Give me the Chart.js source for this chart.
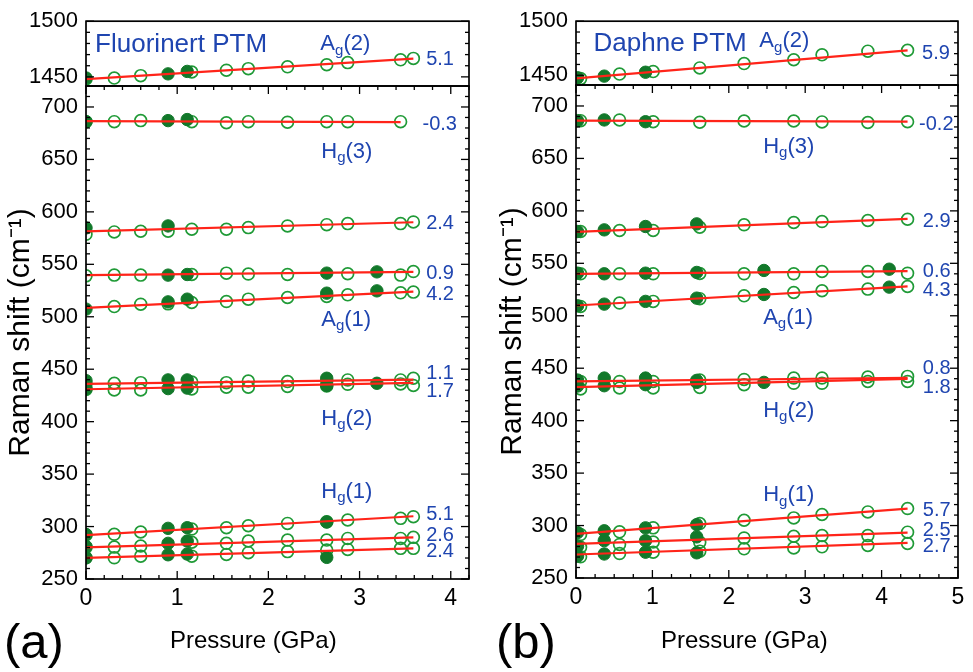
<!DOCTYPE html>
<html lang="en">
<head>
  <meta charset="UTF-8" />
  <title>Raman shift vs pressure</title>
  <script src="https://cdn.jsdelivr.net/npm/chart.js"></script>
  <style>
    body {
      margin: 0;
      background: #fff;
      font-family: 'Liberation Sans', Arial, sans-serif;
    }
    #figure {
      position: relative;
      width: 973px;
      height: 672px;
      overflow: hidden;
    }
    #figure canvas {
      position: absolute;
      top: 0;
    }
    .txt {
      position: absolute;
      color: #000;
      white-space: nowrap;
      line-height: 1;
      transform: translateY(-50%);
    }
    .tag { font-size: 49px; }
    .xtitle { font-size: 24px; }
  </style>
</head>
<body>
  <div id="figure">
    <canvas id="aTop" width="480" height="672" style="left:0"></canvas>
    <canvas id="aBottom" width="480" height="672" style="left:0"></canvas>
    <canvas id="bTop" width="483" height="672" style="left:490px"></canvas>
    <canvas id="bBottom" width="483" height="672" style="left:490px"></canvas>
    <div class="txt tag" style="left:4px; top:641px">(a)</div>
    <div class="txt xtitle" style="left:170px; top:640px">Pressure (GPa)</div>
    <div class="txt tag" style="left:496px; top:641px">(b)</div>
    <div class="txt xtitle" style="left:661px; top:640px">Pressure (GPa)</div>
  </div>

  <script>
    const FONT = "'Liberation Sans', Arial, sans-serif";
    const OPEN_GREEN = '#1f9a36';
    const FILLED_GREEN = '#12782a';
    const FIT_RED = '#ff2419';
    const NOTE_BLUE = '#1f45b0';

    // mode order: Ag(2), Hg(3), ~580, ~540, Ag(1), Hg(2) upper, Hg(2) lower, Hg(1) upper, Hg(1) mid, Hg(1) low

    // ---- (a) Fluorinert PTM ----
    const aPressOpen = [0, 0.31, 0.60, 0.90, 1.16, 1.54, 1.78, 2.21, 2.64, 2.87, 3.45, 3.59];
    const aOpen = [
      [1448.1, 1448.9, 1451.1, null, 1454.4, 1456.0, 1457.4, 1459.0, 1460.9, 1462.8, 1465.3, 1466.6],
      [686.0, 686.0, 687.0, null, 686.0, 685.0, 686.0, 685.5, 686.0, 686.0, 686.0, null],
      [578.6, 580.9, 581.5, 581.5, 583.4, 583.4, 585.0, 586.6, 587.8, 588.8, 588.8, 590.4],
      [539.0, 539.7, 539.7, null, 540.3, 541.6, 540.7, 540.3, null, 541.0, 539.7, 543.1],
      [null, 509.7, 512.0, 512.3, 513.6, 514.5, 516.8, 518.4, 519.3, 520.9, 522.8, 523.5],
      [436.0, 436.6, 437.2, null, 437.8, 437.2, 438.8, 438.2, 438.5, 439.8, 439.8, 441.4],
      [430.6, 430.2, 430.2, null, 431.2, 432.8, 432.8, 433.5, 434.0, 435.6, 436.0, 434.5],
      [291.9, 292.6, 294.8, null, 297.6, 298.9, 300.8, 303.0, 304.5, 306.2, 307.8, 309.4],
      [280.1, 280.4, 281.4, null, 285.0, 284.0, 286.2, 287.1, 287.1, 288.7, 288.7, 289.7],
      [270.2, 270.2, 271.8, null, 271.8, 273.4, 275.1, 276.1, 277.6, 278.2, 279.2, 279.2]
    ];
    const aPressFilled = [0, 0.90, 1.11, 2.64, 3.19];
    const aFilled = [
      [1449.0, 1452.7, 1454.9, null, null],
      [686.0, 687.0, 688.0, null, null],
      [584.7, 586.6, null, null, null],
      [null, 539.7, 540.3, 541.6, 542.8],
      [507.3, 514.2, 516.8, 522.5, 524.7],
      [439.1, 439.8, 439.8, 441.4, null],
      [431.5, 431.5, 432.0, 434.5, 436.6],
      [292.5, 298.3, 298.9, 304.3, null],
      [281.0, 284.0, 286.2, null, null],
      [270.2, 273.1, 273.8, 270.6, null]
    ];
    // linear fits: value at P = 0 and at the last pressure
    const aFit = [
      [1448.0, 1466.4], [686.5, 685.5], [581.5, 590.1], [539.7, 542.8], [508.5, 524.0],
      [436.0, 440.0], [430.9, 437.0], [291.9, 309.8], [280.1, 289.7], [270.2, 279.2]
    ];
    const aFitEnd = [3.59, 3.45, 3.59, 3.59, 3.59, 3.59, 3.59, 3.59, 3.59, 3.59];
    const aXTicks = [0, 1, 2, 3, 4];

    // ---- (b) Daphne PTM ----
    const bPressOpen = [0.06, 0.57, 1.01, 1.62, 2.20, 2.85, 3.22, 3.82, 4.34];
    const bOpen = [
      [1446.9, 1451.1, 1453.4, 1456.8, 1460.8, 1464.4, 1468.9, 1472.3, 1473.1],
      [686.0, 686.7, 685.0, 684.5, 685.7, 685.7, 684.8, 684.3, 685.0],
      [580.3, 581.3, 581.3, 584.4, 586.7, 588.9, 589.8, 590.8, 592.0],
      [540.0, 540.0, 540.0, 540.3, 540.0, 540.0, 542.2, 542.2, 540.6],
      [508.9, 512.1, 513.7, 516.3, 519.0, 522.2, 523.8, 525.4, 527.9],
      [437.4, 437.4, 437.4, 438.8, 439.3, 440.6, 440.6, 441.6, 442.2],
      [430.2, 431.1, 431.1, 431.7, 434.3, 435.6, 435.6, 437.4, 437.4],
      [291.4, 294.0, 297.8, 301.9, 305.1, 307.3, 310.5, 313.0, 316.2],
      [279.3, 282.0, 284.3, 284.1, 288.2, 289.8, 290.4, 290.4, 293.7],
      [270.2, 273.3, 274.6, 275.6, 277.8, 278.7, 279.7, 281.0, 282.9]
    ];
    const bPressFilled = [0.02, 0.37, 0.91, 1.58, 2.46, 4.10];
    const bFilled = [
      [1447.7, 1449.2, 1452.8, null, null, null],
      [686.0, 686.7, 685.0, null, null, null],
      [580.3, 581.9, 585.1, 587.6, null, null],
      [540.6, 540.0, 540.6, 541.3, 543.2, 544.4],
      [509.5, 511.1, 513.7, 516.8, 520.3, 527.3],
      [438.7, 440.6, 440.6, 438.4, null, null],
      [433.0, 433.3, 434.3, 436.5, 436.5, null],
      [293.3, 295.0, 297.8, 300.9, null, null],
      [280.3, 285.6, 285.6, 289.2, null, null],
      [270.8, 272.9, 274.6, 274.0, null, null]
    ];
    const bFit = [
      [1447.2, 1473.1], [686.0, 685.1], [580.0, 592.4], [540.0, 542.6], [509.8, 528.0],
      [437.4, 440.9], [432.0, 439.8], [292.1, 316.2], [282.5, 293.3], [272.4, 283.5]
    ];
    const bFitEnd = [4.34, 4.34, 4.34, 4.34, 4.34, 4.34, 4.34, 4.34, 4.34, 4.34];
    const bXTicks = [0, 1, 2, 3, 4, 5];

    const topYTicks = [1450, 1500];
    const bottomYTicks = [250, 300, 350, 400, 450, 500, 550, 600, 650, 700];

    // blue annotations, placed in data units
    const aTopNotes = [
      { x: 0.10, y: 1481, text: 'Fluorinert PTM', size: 26 },
      { x: 2.57, y: 1481, text: 'A', sub: 'g', tail: '(2)', size: 22 },
      { x: 3.73, y: 1467, text: '5.1', size: 20 }
    ];
    const aBottomNotes = [
      { x: 3.69, y: 685, text: '-0.3', size: 20 },
      { x: 2.58, y: 659, text: 'H', sub: 'g', tail: '(3)', size: 22 },
      { x: 3.73, y: 590.8, text: '2.4', size: 20 },
      { x: 3.73, y: 543, text: '0.9', size: 20 },
      { x: 3.73, y: 523, text: '4.2', size: 20 },
      { x: 2.58, y: 499, text: 'A', sub: 'g', tail: '(1)', size: 22 },
      { x: 3.73, y: 447.7, text: '1.1', size: 20 },
      { x: 3.73, y: 430, text: '1.7', size: 20 },
      { x: 2.58, y: 404.7, text: 'H', sub: 'g', tail: '(2)', size: 22 },
      { x: 2.58, y: 334.8, text: 'H', sub: 'g', tail: '(1)', size: 22 },
      { x: 3.73, y: 312.6, text: '5.1', size: 20 },
      { x: 3.73, y: 293.5, text: '2.6', size: 20 },
      { x: 3.73, y: 277.6, text: '2.4', size: 20 }
    ];
    const bTopNotes = [
      { x: 0.23, y: 1481.4, text: 'Daphne PTM', size: 26 },
      { x: 2.40, y: 1483, text: 'A', sub: 'g', tail: '(2)', size: 22 },
      { x: 4.53, y: 1472, text: '5.9', size: 20 }
    ];
    const bBottomNotes = [
      { x: 4.49, y: 683.5, text: '-0.2', size: 20 },
      { x: 2.45, y: 663, text: 'H', sub: 'g', tail: '(3)', size: 22 },
      { x: 4.54, y: 591.4, text: '2.9', size: 20 },
      { x: 4.54, y: 544, text: '0.6', size: 20 },
      { x: 4.54, y: 525.7, text: '4.3', size: 20 },
      { x: 2.45, y: 500, text: 'A', sub: 'g', tail: '(1)', size: 22 },
      { x: 4.54, y: 451.1, text: '0.8', size: 20 },
      { x: 4.54, y: 433.6, text: '1.8', size: 20 },
      { x: 2.45, y: 411.4, text: 'H', sub: 'g', tail: '(2)', size: 22 },
      { x: 2.45, y: 330.5, text: 'H', sub: 'g', tail: '(1)', size: 22 },
      { x: 4.54, y: 316.2, text: '5.7', size: 20 },
      { x: 4.54, y: 297.1, text: '2.5', size: 20 },
      { x: 4.54, y: 281.2, text: '2.7', size: 20 }
    ];

    // frame with inward ticks on the plot box
    const framePlugin = {
      id: 'frame',
      afterDatasetsDraw(chart, args, o) {
        const { ctx, chartArea: ca, scales: { x, y } } = chart;
        ctx.save();
        ctx.strokeStyle = '#000';
        ctx.lineWidth = 1.7;
        ctx.strokeRect(ca.left, ca.top, ca.right - ca.left, ca.bottom - ca.top);
        ctx.lineWidth = 1.3;
        const seg = (x1, y1, x2, y2) => {
          ctx.beginPath(); ctx.moveTo(x1, y1); ctx.lineTo(x2, y2); ctx.stroke();
        };
        for (let k = 0; ; k++) {
          const v = o.yStart + k * o.yMinor;
          if (v > y.max + 1e-9) break;
          const py = y.getPixelForValue(v);
          const len = k % o.yEvery === 0 ? 8 : 4;
          seg(ca.left, py, ca.left + len, py);
          seg(ca.right, py, ca.right - len, py);
        }
        if (o.xTicks) {
          for (let k = 0; ; k++) {
            const v = k * o.xMinor;
            if (v > x.max + 1e-9) break;
            const px = x.getPixelForValue(v);
            const len = k % o.xEvery === 0 ? 8 : 4;
            seg(px, ca.bottom, px, ca.bottom - len);
            seg(px, ca.top, px, ca.top + len);
          }
        }
        ctx.restore();
      }
    };

    const notesPlugin = {
      id: 'notes',
      afterDatasetsDraw(chart, args, o) {
        const { ctx, scales: { x, y } } = chart;
        ctx.save();
        ctx.fillStyle = NOTE_BLUE;
        ctx.textAlign = 'left';
        ctx.textBaseline = 'alphabetic';
        o.items.forEach(n => {
          let px = x.getPixelForValue(n.x);
          const base = y.getPixelForValue(n.y) + n.size * 0.358;
          ctx.font = `${n.size}px ${FONT}`;
          ctx.fillText(n.text, px, base);
          if (n.sub) {
            px += ctx.measureText(n.text).width;
            ctx.font = `${Math.round(n.size * 0.66)}px ${FONT}`;
            ctx.fillText(n.sub, px, base + n.size * 0.2);
            px += ctx.measureText(n.sub).width;
            ctx.font = `${n.size}px ${FONT}`;
            ctx.fillText(n.tail, px, base);
          }
        });
        ctx.restore();
      }
    };

    function pts(xs, ys) {
      return xs.map((x, i) => ({ x, y: ys[i] })).filter(p => p.y !== null);
    }

    function buildDatasets(pOpen, open, pFilled, filled, fit, fitEnd, modes) {
      const fits = [], full = [], hollow = [];
      modes.forEach(i => {
        fits.push({
          type: 'line',
          data: [{ x: 0, y: fit[i][0] }, { x: fitEnd[i], y: fit[i][1] }],
          borderColor: FIT_RED,
          borderWidth: 2.2,
          pointRadius: 0,
          clip: 0
        });
        full.push({
          data: pts(pFilled, filled[i]),
          pointRadius: 6.2,
          pointBorderWidth: 1,
          pointBackgroundColor: FILLED_GREEN,
          pointBorderColor: FILLED_GREEN,
          clip: 0
        });
        hollow.push({
          data: pts(pOpen, open[i]),
          pointRadius: 5.9,
          pointBorderWidth: 1.7,
          pointBackgroundColor: 'rgba(255,255,255,0)',
          pointBorderColor: OPEN_GREEN,
          clip: 0
        });
      });
      return [...fits, ...full, ...hollow];
    }

    function makeChart(id, cfg) {
      const isTop = cfg.part === 'top';
      return new Chart(document.getElementById(id), {
        type: 'scatter',
        data: { datasets: cfg.datasets },
        options: {
          responsive: false,
          animation: false,
          events: [],
          layout: { padding: cfg.padding },
          plugins: {
            legend: { display: false },
            tooltip: { enabled: false },
            frame: cfg.frame,
            notes: { items: cfg.notes }
          },
          scales: {
            x: {
              type: 'linear',
              min: 0,
              max: cfg.xMax,
              display: !isTop,
              grid: { display: false, drawTicks: false },
              border: { display: false },
              afterBuildTicks: s => { s.ticks = cfg.xTicks.map(v => ({ value: v })); },
              afterFit: s => { s.height = cfg.xHeight; },
              ticks: {
                color: '#000',
                font: { family: FONT, size: 23 },
                padding: 6,
                maxRotation: 0,
                autoSkip: false,
                callback: v => String(v)
              }
            },
            y: {
              type: 'linear',
              min: cfg.yMin,
              max: cfg.yMax,
              grid: { display: false, drawTicks: false },
              border: { display: false },
              afterBuildTicks: s => { s.ticks = cfg.yTicks.map(v => ({ value: v })); },
              afterFit: s => { s.width = 86; },
              ticks: {
                color: '#000',
                font: { family: FONT, size: 22 },
                padding: 8,
                callback: v => String(v)
              },
              title: {
                display: !isTop,
                text: 'Raman shift (cm\u207B\u00B9)',
                color: '#000',
                font: { family: FONT, size: 30 },
                padding: { top: cfg.titlePad, bottom: 0 }
              }
            }
          }
        },
        plugins: [framePlugin, notesPlugin]
      });
    }

    const bottomModes = [1, 2, 3, 4, 5, 6, 7, 8, 9];

    makeChart('aTop', {
      part: 'top',
      datasets: buildDatasets(aPressOpen, aOpen, aPressFilled, aFilled, aFit, aFitEnd, [0]),
      padding: { top: 15, bottom: 672 - 86, left: 0, right: 11 },
      xMax: 4.2, xTicks: aXTicks, xHeight: 0,
      yMin: 1441.8, yMax: 1500, yTicks: topYTicks,
      frame: { yStart: 1450, yMinor: 10, yEvery: 5, xTicks: false },
      notes: aTopNotes, titlePad: 3
    });
    makeChart('aBottom', {
      part: 'bottom',
      datasets: buildDatasets(aPressOpen, aOpen, aPressFilled, aFilled, aFit, aFitEnd, bottomModes),
      padding: { top: 86, bottom: 0, left: 0, right: 11 },
      xMax: 4.2, xTicks: aXTicks, xHeight: 672 - 579,
      yMin: 250, yMax: 720, yTicks: bottomYTicks,
      frame: { yStart: 250, yMinor: 10, yEvery: 5, xTicks: true, xMinor: 0.2, xEvery: 5 },
      notes: aBottomNotes, titlePad: 3
    });
    makeChart('bTop', {
      part: 'top',
      datasets: buildDatasets(bPressOpen, bOpen, bPressFilled, bFilled, bFit, bFitEnd, [0]),
      padding: { top: 15, bottom: 672 - 85, left: 0, right: 15 },
      xMax: 5, xTicks: bXTicks, xHeight: 0,
      yMin: 1441, yMax: 1500, yTicks: topYTicks,
      frame: { yStart: 1450, yMinor: 10, yEvery: 5, xTicks: false },
      notes: bTopNotes, titlePad: 5
    });
    makeChart('bBottom', {
      part: 'bottom',
      datasets: buildDatasets(bPressOpen, bOpen, bPressFilled, bFilled, bFit, bFitEnd, bottomModes),
      padding: { top: 85, bottom: 0, left: 0, right: 15 },
      xMax: 5, xTicks: bXTicks, xHeight: 672 - 578,
      yMin: 250, yMax: 720, yTicks: bottomYTicks,
      frame: { yStart: 250, yMinor: 10, yEvery: 5, xTicks: true, xMinor: 0.25, xEvery: 4 },
      notes: bBottomNotes, titlePad: 5
    });
  </script>
</body>
</html>
